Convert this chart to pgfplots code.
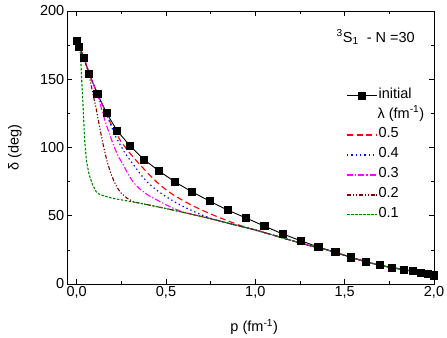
\documentclass[border=0pt]{standalone}
\usepackage{fontspec}
\setmainfont{Liberation Sans}
\usepackage{pgfplots}
\pgfplotsset{compat=1.18}
\definecolor{cRed}{RGB}{255,0,0}
\definecolor{cBlue}{RGB}{0,0,255}
\definecolor{cMag}{RGB}{255,0,255}
\definecolor{cDark}{RGB}{128,0,0}
\definecolor{cGreen}{RGB}{0,128,0}
\pgfplotsset{
  sInit/.style={black, line width=0.9pt, mark=square*, mark size=3.6pt, mark options={solid, fill=black}},
  sA/.style={cRed, line width=1.1pt, dash pattern=on 6pt off 3.5pt},
  sB/.style={cBlue, line width=1.2pt, dash pattern=on 1.3pt off 3pt},
  sC/.style={cMag, line width=1.1pt, dash pattern=on 6pt off 2pt on 1.3pt off 2pt},
  sD/.style={cDark, line width=1.1pt, dash pattern=on 4pt off 1.8pt on 1.2pt off 1.8pt on 1.2pt off 1.8pt},
  sE/.style={cGreen, line width=1.1pt, dash pattern=on 2.5pt off 1.5pt},
}
\begin{document}
\begin{tikzpicture}
\begin{axis}[
    scale only axis,
    width=367pt, height=273pt,
    xmin=-0.054, xmax=2.0,
    ymin=0, ymax=200,
    xtick={0,0.5,1,1.5,2},
    ytick={0,50,100,150,200},
    minor tick num=1,
    tick align=inside,
    major tick length=5pt,
    minor tick length=3pt,
    tick style={black, line width=0.6pt},
    axis line style={black, line width=0.9pt},
    font=\fontsize{14.5}{16}\selectfont,
    /pgf/number format/assume math mode=true,
    xticklabel style={inner sep=2pt, /pgf/number format/.cd, fixed, fixed zerofill, precision=1, use comma},
    yticklabel style={inner sep=2.5pt, /pgf/number format/.cd, fixed, precision=0},
    xlabel={p (fm\textsuperscript{-1})},
    ylabel={δ (deg)},
    xlabel style={at={(rel axis cs:0.51,0)}, anchor=center, yshift=-43pt},
    ylabel style={at={(rel axis cs:0,0.5)}, anchor=center, yshift=52pt},
    legend style={at={(rel axis cs:0.752,0.734)}, anchor=north west,
                  draw=none, fill=none, row sep=0pt,
                  font=\fontsize{14.5}{16}\selectfont,
                  nodes={inner sep=1pt, text height=11.5pt, text depth=6.3pt}},
    legend cell align=left,
    legend image code/.code={\draw[mark repeat=2, mark phase=2, #1]
        plot coordinates {(0cm,0cm) (0.52cm,0cm) (1.04cm,0cm)};},
]
\addlegendimage{sInit}
\addlegendentry{initial}
\addlegendimage{empty legend}
\addlegendentry{\hspace*{-1pt}λ (fm\textsuperscript{-1})}
\addlegendimage{sA, line width=1.8pt}
\addlegendentry{0.5}
\addlegendimage{sB, line width=1.8pt}
\addlegendentry{0.4}
\addlegendimage{sC, line width=1.8pt}
\addlegendentry{0.3}
\addlegendimage{sD, line width=1.8pt}
\addlegendentry{0.2}
\addlegendimage{sE, line width=1.8pt}
\addlegendentry{0.1}
\addplot[sInit, forget plot] coordinates {
 (0.000,178.3) (0.015,173.9) (0.041,165.6) (0.071,153.9) (0.116,139.3)
 (0.168,125.1) (0.227,112.2) (0.300,101.0) (0.378,91.0) (0.462,82.7)
 (0.552,74.6) (0.645,67.6) (0.744,60.7) (0.846,54.1) (0.949,48.3)
 (1.051,42.4) (1.154,36.6) (1.254,31.7) (1.353,27.1) (1.448,23.2)
 (1.536,19.5) (1.620,16.3) (1.696,13.7) (1.765,12.0) (1.830,10.5)
 (1.884,9.3) (1.929,8.3) (1.968,7.3) (2.000,6.3)
};
% lambda = 0.5
\addplot[sA, forget plot] coordinates {
 (0.000,178.3) (0.015,173.9) (0.041,165.6) (0.071,153.9) (0.116,139.3)
 (0.168,124.5) (0.2,115) (0.25,104) (0.3,95.5) (0.35,88) (0.4,81)
 (0.45,74.5) (0.5,69) (0.55,64.5) (0.6,60.8) (0.65,57.3) (0.7,54.2)
 (0.75,51.3) (0.8,48.6) (0.85,46.1) (0.9,43.6) (0.95,41.4) (1.0,39.6)
 (1.1,35.8) (1.2,32.0) (1.3,28.3) (1.4,25.0) (1.448,23.2)
 (1.536,19.5) (1.620,16.3) (1.696,13.7) (1.765,12.0) (1.830,10.5)
 (1.884,9.3) (1.929,8.1) (1.968,7.0) (2.000,5.5)
};
% lambda = 0.4
\addplot[sB, forget plot] coordinates {
 (0.000,178.3) (0.015,173.9) (0.041,165.6) (0.071,153.9) (0.116,139.3)
 (0.15,129) (0.18,120) (0.22,107.5) (0.27,96) (0.32,87) (0.36,80)
 (0.4,74) (0.45,68.5) (0.5,64) (0.55,60) (0.6,56.5) (0.65,53.5)
 (0.7,50.6) (0.75,48.1) (0.8,46.2) (0.9,42.8) (1.0,39.6)
 (1.1,35.8) (1.2,32.0) (1.3,28.3) (1.4,25.0) (1.448,23.2)
 (1.536,19.5) (1.620,16.3) (1.696,13.7) (1.765,12.0) (1.830,10.5)
 (1.884,9.3) (1.929,8.1) (1.968,7.0) (2.000,5.5)
};
% lambda = 0.3
\addplot[sC, forget plot] coordinates {
 (0.000,178.3) (0.015,173.9) (0.041,165.6) (0.071,153.9) (0.116,139.3)
 (0.14,128) (0.16,119) (0.186,109) (0.21,100.5) (0.233,93.5) (0.26,87.5)
 (0.28,82.5) (0.3,78) (0.317,74.5) (0.35,70) (0.4,65) (0.45,61.5)
 (0.5,58) (0.55,55) (0.6,52.4) (0.7,49.4) (0.8,46.2) (0.9,42.8) (1.0,39.6)
 (1.1,35.8) (1.2,32.0) (1.3,28.3) (1.4,25.0) (1.448,23.2)
 (1.536,19.5) (1.620,16.3) (1.696,13.7) (1.765,12.0) (1.830,10.5)
 (1.884,9.3) (1.929,8.1) (1.968,7.0) (2.000,5.5)
};
% lambda = 0.2
\addplot[sD, forget plot] coordinates {
 (0.000,178.3) (0.015,173.9) (0.041,165.6) (0.07,153) (0.09,140)
 (0.11,128) (0.13,114) (0.15,101) (0.17,90) (0.19,81.5) (0.21,75)
 (0.23,70) (0.25,66.5) (0.28,63) (0.32,60.2) (0.4,58) (0.5,55.3)
 (0.6,52.4) (0.7,49.4) (0.8,46.2) (0.9,42.8) (1.0,39.6)
 (1.1,35.8) (1.2,32.0) (1.3,28.3) (1.4,25.0) (1.448,23.2)
 (1.536,19.5) (1.620,16.3) (1.696,13.7) (1.765,12.0) (1.830,10.5)
 (1.884,9.3) (1.929,8.1) (1.968,7.0) (2.000,5.5)
};
% lambda = 0.1
\addplot[sE, forget plot] coordinates {
 (0.000,178.3) (0.015,174) (0.022,168) (0.028,150) (0.035,133)
 (0.045,105) (0.055,90) (0.07,80) (0.09,72.5) (0.11,67.5) (0.13,65.5)
 (0.2,62.8) (0.3,60.5) (0.4,58) (0.5,55.3) (0.6,52.4) (0.7,49.4)
 (0.8,46.2) (0.9,42.8) (1.0,39.6)
 (1.1,35.8) (1.2,32.0) (1.3,28.3) (1.4,25.0) (1.448,23.2)
 (1.536,19.5) (1.620,16.3) (1.696,13.7) (1.765,12.0) (1.830,10.5)
 (1.884,9.3) (1.929,8.1) (1.968,7.0) (2.000,5.5)
};
\node[anchor=east, inner sep=0pt, font=\fontsize{14.5}{16}\selectfont]
  at (rel axis cs:0.948,0.905) {\textsuperscript{3}S\textsubscript{1}~ - N =30};
\end{axis}
% keep the reference's margins around the axis box
\path (current axis.south west) ++(-67pt,-53pt) coordinate (bbA);
\path (current axis.north east) ++(13pt,11pt) coordinate (bbB);
\useasboundingbox (bbA) rectangle (bbB);
\end{tikzpicture}
\end{document}
